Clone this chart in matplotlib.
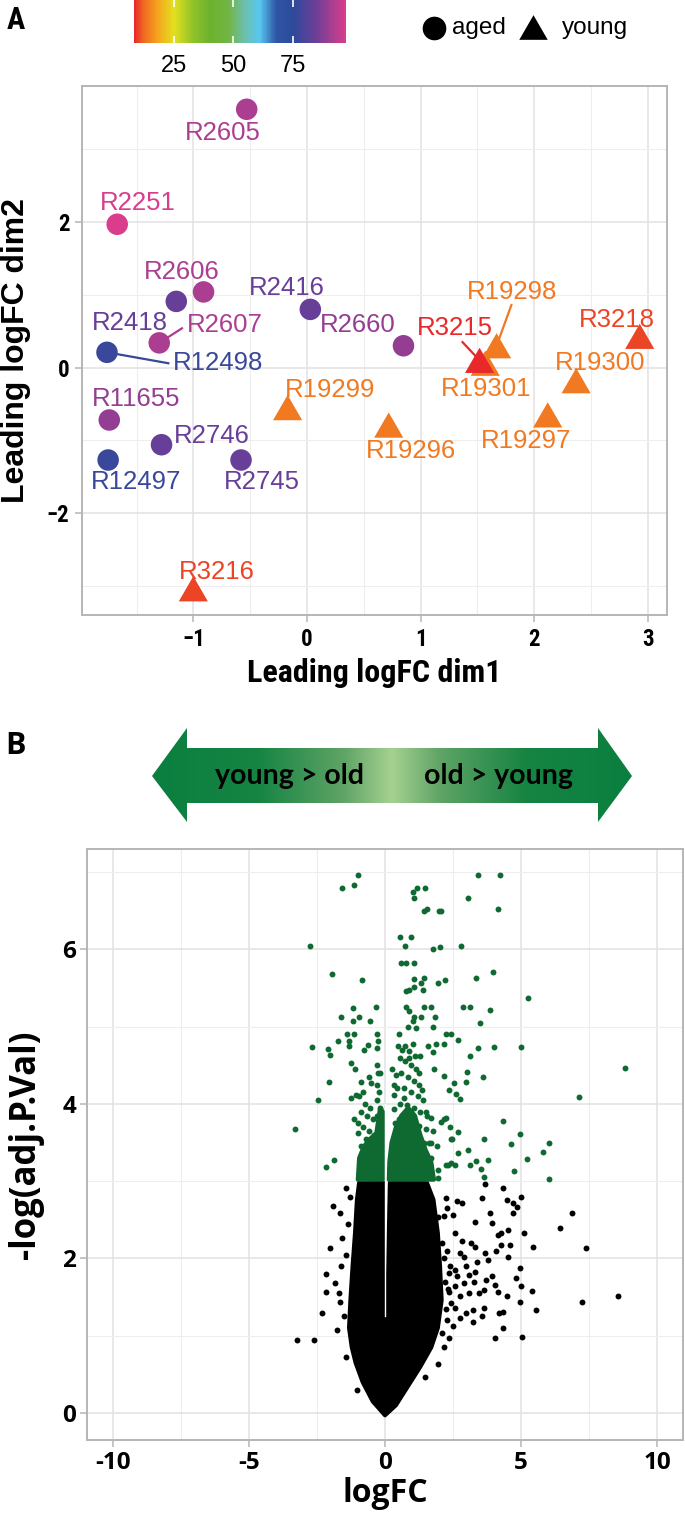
import numpy as np
import matplotlib
matplotlib.use("Agg")
import matplotlib.pyplot as plt
from matplotlib import font_manager
from matplotlib.colors import LinearSegmentedColormap, Normalize
from matplotlib.cm import ScalarMappable
from matplotlib.patches import Polygon
from matplotlib.path import Path


def pick_font(*names):
    have = {f.name for f in font_manager.fontManager.ttflist}
    for n in names:
        if n in have:
            return n
    return "DejaVu Sans"


NARROW = pick_font("Liberation Sans Narrow", "Roboto Condensed", "Liberation Sans")
ARIAL = pick_font("Liberation Sans", "Arial", "DejaVu Sans")
OPEN = pick_font("Open Sans", "Noto Sans", "DejaVu Sans")
LATO = pick_font("Lato", "Open Sans", "DejaVu Sans")

# ---- panel A data (MDS plot) ----
samples = ["R2605", "R2251", "R2606", "R2418", "R2607", "R12498", "R2416", "R2660",
           "R11655", "R2746", "R12497", "R2745",
           "R19301", "R19298", "R19300", "R19299", "R19296", "R19297",
           "R3215", "R3218", "R3216"]
group = ["aged"] * 12 + ["young"] * 9
age = [92, 97, 92, 84, 92, 77, 84, 89, 89, 84, 77, 84,
       14, 14, 14, 14, 14, 14, 8.2, 10, 10]
dim1 = [-0.53, -1.67, -0.91, -1.15, -1.30, -1.76, 0.03, 0.85, -1.74, -1.28, -1.75, -0.58,
        1.57, 1.67, 2.37, -0.17, 0.72, 2.12, 1.52, 2.93, -1.00]
dim2 = [3.55, 1.97, 1.04, 0.91, 0.34, 0.21, 0.80, 0.30, -0.72, -1.06, -1.27, -1.27,
        0.06, 0.30, -0.18, -0.55, -0.79, -0.65, 0.10, 0.43, -3.04]
# repelled label positions
lab_x = [-0.74, -1.49, -1.10, -1.56, -0.72, -0.78, -0.18, 0.45, -1.50, -0.84, -1.50, -0.40,
         1.58, 1.81, 2.58, 0.20, 0.92, 1.93, 1.30, 2.73, -0.79]
lab_y = [3.23, 2.26, 1.31, 0.61, 0.58, 0.07, 1.09, 0.58, -0.43, -0.94, -1.57, -1.57,
         -0.30, 1.04, 0.06, -0.31, -1.15, -1.01, 0.54, 0.65, -2.81]
# leader segments (label end)
seg_names = ["R2607", "R12498", "R3215", "R19298"]
seg_end_x = [-1.10, -1.22, 1.37, 1.80]
seg_end_y = [0.54, 0.06, 0.35, 0.86]

age_ticks = [25, 50, 75]
age_min, age_max = 8.2, 97.3

# ---- panel B data (volcano) ----
green_x = [-1.00, -1.59, -1.15, 3.43, 4.24, 1.18, 1.48, 1.04, 1.05, 3.06, 1.45, 1.54, 1.97, 2.06,
           4.15, 0.55, 0.97, 0.75, 1.75, 2.03, 2.79, -2.75, 0.59, 0.77, 1.08, -1.96, -0.85, 1.08,
           1.42, 1.32, 1.05, 1.40, 0.77, 0.87, 1.96, 2.21, 3.33, 3.98, 5.25,
           -1.19, -0.33, -1.61, -1.19, -0.97, -0.56, 0.77, 1.42, 1.69, 2.86, 3.13, 3.84, 3.50,
           1.85, 0.89, 1.08, 1.32, 1.02, 0.83, 1.14, 1.75, -2.68, -2.11, -2.01, -1.72, -1.41,
           -1.13, -1.34, -1.34, -0.64, -0.76, -0.31, -0.27, -0.29, -1.25, -2.07, -2.48, -3.30,
           0.53, 0.47, 0.74, 1.04, 1.57, 2.24, 2.43, 2.70, 2.18, 1.87, 1.75, 1.30, 0.89, 3.14,
           3.43, 4.00, 5.00, 1.81, 2.16, 2.55, 3.01, 2.98, 3.61, 2.37, 2.77, 2.61, 0.34, 0.34,
           0.34, 0.37, 1.69, 2.18, 2.40, 2.67, 2.43, 3.65, 4.33, 4.96, 4.63, 5.22, 5.80, 6.04,
           6.04, 4.75, 3.77, 3.36, 3.11, 3.06, 2.70, 3.63, 3.53, 1.93, 2.24, 2.43, 2.30, 2.57,
           2.24, 2.06, 2.45, 7.12, 8.82, -1.25, -1.07, -0.88, -0.51, -1.87, -2.16, -0.88,
           -1.13, -1.00, 1.60, 1.70, 1.50, 1.95, -1.10, -0.20, 0.25, 1.25,
           # inside the left cluster
           -0.31, -0.25, -0.30, -0.22, -0.28, -0.20, -0.30, -0.60, -0.80, -0.95, -0.75, -0.55,
           -0.90, -0.65, -0.45, -1.00, -0.80, -0.60, -0.40, -0.70, -0.88,
           # inside the right cluster
           0.55, 0.75, 0.95, 1.15, 0.60, 0.85, 1.05, 1.25, 0.45, 0.70, 0.95, 1.20, 1.40, 0.55,
           0.80, 1.05, 1.30, 1.55, 0.50, 0.75, 1.00, 1.25, 1.50, 1.75, 0.45, 0.70, 0.95, 1.20,
           1.45, 1.70, 1.90, 0.62, 0.90, 1.12, 0.40, 0.68, 1.35]
green_y = [6.96, 6.80, 6.83, 6.96, 6.96, 6.80, 6.80, 6.74, 6.67, 6.67, 6.50, 6.52, 6.50, 6.50,
           6.52, 6.16, 6.16, 6.05, 6.01, 6.03, 6.05, 6.05, 5.83, 5.83, 5.82, 5.68, 5.61, 5.62,
           5.63, 5.56, 5.51, 5.48, 5.46, 5.47, 5.56, 5.61, 5.63, 5.71, 5.37,
           5.24, 5.26, 5.13, 5.08, 5.13, 5.08, 5.26, 5.25, 5.25, 5.26, 5.26, 5.21, 5.05,
           5.13, 5.20, 5.13, 5.13, 5.07, 5.00, 4.98, 5.00, 4.74, 4.71, 4.63, 4.82, 4.90,
           4.91, 4.82, 4.75, 4.76, 4.70, 4.91, 4.81, 4.72, 4.53, 4.28, 4.05, 3.67,
           4.91, 4.75, 4.75, 4.77, 4.75, 4.91, 4.90, 4.83, 4.77, 4.77, 4.67, 4.62, 4.59, 4.62,
           4.72, 4.74, 4.74, 4.45, 4.36, 4.27, 4.41, 4.29, 4.35, 4.18, 4.06, 4.13, 4.25, 4.11,
           3.93, 3.75, 3.82, 3.80, 3.70, 3.64, 3.54, 3.54, 3.78, 3.61, 3.48, 3.29, 3.38, 3.49,
           3.03, 3.13, 3.28, 3.26, 3.21, 3.40, 3.36, 3.05, 3.16, 3.04, 3.21, 3.23, 3.21, 3.21,
           3.82, 3.76, 3.54, 4.09, 4.46, 4.08, 4.12, 4.29, 4.27, 3.28, 3.19, 3.04,
           3.80, 3.62, 3.50, 3.30, 3.90, 3.15, 4.45, 4.40, 4.45, 4.40,
           4.50, 4.40, 4.25, 4.15, 4.05, 3.95, 3.85, 4.35, 4.15, 4.10, 4.00, 3.95,
           3.90, 3.85, 3.80, 3.75, 3.70, 3.65, 3.60, 3.55, 3.45,
           4.60, 4.55, 4.50, 4.45, 4.40, 4.35, 4.30, 4.25, 4.20, 4.20, 4.15, 4.10, 4.05, 4.00,
           3.98, 3.95, 3.90, 3.85, 3.80, 3.78, 3.75, 3.72, 3.68, 3.65, 3.60, 3.60, 3.58, 3.55,
           3.50, 3.50, 3.45, 4.70, 4.68, 4.62, 4.38, 4.08, 4.18]
black_x = [-3.23, -2.60, -2.31, -2.15, -2.15, -1.91, -1.67, -2.02, -1.75, -1.62, -1.83, -1.67,
           -1.59, -1.43, -1.43, -1.03, -1.70,
           2.66, 2.83, 2.26, 3.55, 3.66, 4.35, 4.48, 4.99, 4.70, 4.86, 4.70, 3.84, 3.31, 3.95,
           6.86, 6.43, 7.39, 5.44, 5.12, 4.51, 4.27, 4.16, 4.51, 4.27, 4.59, 4.08, 3.68, 3.31,
           3.15, 2.83, 2.74, 2.26, 2.10, 2.58, 2.50, 1.94, 2.23, 4.96, 4.80, 4.99, 5.39, 4.96,
           5.55, 4.35, 4.19, 4.35, 5.04, 4.03, 7.24, 8.55, 4.48, 4.16, 3.63, 3.47, 3.71, 3.95,
           4.03, 3.27, 2.91, 2.58, 2.34, 2.74, 3.07, 3.31, 2.99, 2.58, 2.34, 2.66, 3.63, 3.23,
           2.99, 2.74, 3.23, 3.55, 2.58, 2.42, 2.50, 2.34, 2.18, 1.94, 1.46, 2.10, 2.26, 2.91,
           3.39, 3.79, 3.07, 2.20, 2.40, 2.15, 2.30, -1.35, -1.45, -1.30, -1.50, 2.15, 2.25]
black_y = [0.94, 0.94, 1.30, 1.80, 1.57, 2.68, 2.59, 2.13, 1.08, 1.90, 1.68, 1.44,
           2.26, 2.91, 0.73, 0.30, 1.55,
           2.74, 2.72, 2.65, 2.78, 2.97, 2.91, 2.76, 2.80, 2.72, 2.67, 2.59, 2.59, 2.47, 2.46,
           2.59, 2.40, 2.14, 2.15, 2.33, 2.37, 2.33, 2.31, 2.02, 2.18, 2.18, 2.09, 2.07, 2.15,
           2.20, 2.22, 2.07, 2.09, 2.20, 2.33, 2.56, 2.54, 2.78, 1.88, 1.75, 1.64, 1.58, 1.44,
           1.33, 1.31, 1.29, 1.10, 0.98, 0.97, 1.43, 1.52, 1.51, 1.57, 1.59, 1.55, 1.72, 1.77,
           1.66, 1.70, 1.68, 1.64, 1.57, 1.51, 1.55, 1.83, 1.90, 1.85, 1.81, 1.77, 1.36, 1.33,
           1.29, 1.23, 1.18, 1.25, 1.36, 1.42, 1.12, 0.97, 0.86, 0.64, 0.46, 1.03, 1.20, 2.02,
           1.96, 1.98, 1.79, 1.70, 1.90, 2.00, 1.60, 2.45, 2.05, 2.80, 1.25, 2.55, 1.35]
# outline of the saturated (overplotted) black cloud
core_x = [0.00, 0.40, 0.85, 1.30, 1.70, 1.94, 2.08, 2.02, 1.94, 1.78, 1.54, 0.18, 0.08, -0.05,
          -0.06, -0.95, -1.03, -1.10, -1.19, -1.27, -1.32, -1.22, -1.08, -0.82, -0.45]
core_y = [-0.03, 0.10, 0.35, 0.60, 0.85, 1.10, 1.46, 1.90, 2.33, 2.76, 2.98, 2.98, 1.20, 1.20,
          2.98, 2.98, 2.76, 2.33, 1.90, 1.46, 1.10, 0.85, 0.65, 0.40, 0.15]
# outlines of the saturated green clusters
gl_x = [-1.00, -0.08, -0.08, -0.18, -0.32, -0.55, -0.78, -0.95]
gl_y = [3.02, 3.02, 3.90, 3.95, 3.62, 3.55, 3.45, 3.30]
gr_x = [0.14, 1.80, 1.70, 1.50, 1.30, 1.10, 0.85, 0.60, 0.40, 0.24, 0.16]
gr_y = [3.02, 3.02, 3.25, 3.40, 3.60, 3.85, 3.95, 3.85, 3.70, 3.50, 3.25]

# ---- styling ----
W, H = 685, 1515
GRID_MAJ = "#e2e2e2"
GRID_MIN = "#eeeeee"
FRAME = "#b5b5b5"
GREEN = "#0f6a32"

age_cmap = LinearSegmentedColormap.from_list("age", [
    (0.0, "#e8282a"), ((12 - age_min) / (age_max - age_min), "#ef6722"),
    ((18 - age_min) / (age_max - age_min), "#f5a41e"),
    ((25 - age_min) / (age_max - age_min), "#e3e01f"),
    ((33 - age_min) / (age_max - age_min), "#8fc22a"),
    ((40 - age_min) / (age_max - age_min), "#6db22e"),
    ((48 - age_min) / (age_max - age_min), "#72b545"),
    ((55 - age_min) / (age_max - age_min), "#6cc0b0"),
    ((61 - age_min) / (age_max - age_min), "#57c7ef"),
    ((68 - age_min) / (age_max - age_min), "#2f55a5"),
    ((75 - age_min) / (age_max - age_min), "#2c4a9a"),
    ((84 - age_min) / (age_max - age_min), "#673f98"),
    (1.0, "#d93d8c")])
norm = Normalize(age_min, age_max)

tri = Path([(-1, -0.866), (1, -0.866), (0, 0.866), (-1, -0.866)], closed=True)


def fr(x0, y0, x1, y1):
    """pixel box (top-left origin) -> figure fraction rect"""
    return [x0 / W, 1 - y1 / H, (x1 - x0) / W, (y1 - y0) / H]


def style_axes(ax, lblfont, lblsize, pad=4):
    ax.set_facecolor("white")
    ax.grid(True, which="major", color=GRID_MAJ, lw=1.1)
    ax.grid(True, which="minor", color=GRID_MIN, lw=0.8)
    ax.set_axisbelow(True)
    for s in ax.spines.values():
        s.set_color(FRAME)
        s.set_linewidth(1.4)
    ax.tick_params(which="major", color=FRAME, length=5, width=1.1, pad=pad,
                   labelsize=lblsize, labelcolor="black")
    ax.tick_params(which="minor", length=0)
    for t in ax.get_xticklabels() + ax.get_yticklabels():
        t.set_fontfamily(lblfont)
        t.set_fontweight("bold")


fig = plt.figure(figsize=(W / 100, H / 100), dpi=100)

# overlay in pixel coordinates for decorations
ov = fig.add_axes([0, 0, 1, 1], zorder=0)
ov.set_xlim(0, W)
ov.set_ylim(H, 0)
ov.axis("off")
ov.patch.set_visible(False)

# ================= Panel A =================
axA = fig.add_axes(fr(82, 86, 667, 615), zorder=1)
axA.set_xlim(-1.98, 3.17)
axA.set_ylim(-3.40, 3.87)
axA.set_xticks([-1, 0, 1, 2, 3])
axA.set_xticklabels(["\u22121", "0", "1", "2", "3"])
axA.set_xticks([-1.5, -0.5, 0.5, 1.5, 2.5], minor=True)
axA.set_yticks([-2, 0, 2])
axA.set_yticklabels(["\u22122", "0", "2"])
axA.set_yticks([-3, -1, 1, 3], minor=True)
style_axes(axA, NARROW, 16.5)

d1 = np.array(dim1)
d2 = np.array(dim2)
ag = np.array(age)
is_aged = np.array([g == "aged" for g in group])
colors = [age_cmap(norm(a)) for a in age]

for name, ex, ey in zip(seg_names, seg_end_x, seg_end_y):
    i = samples.index(name)
    axA.plot([dim1[i], ex], [dim2[i], ey], color=colors[i], lw=1.6, zorder=2)

axA.scatter(d1[is_aged], d2[is_aged], c=ag[is_aged], cmap=age_cmap, norm=norm,
            marker="o", s=240, linewidths=0, zorder=3)
axA.scatter(d1[~is_aged], d2[~is_aged], c=ag[~is_aged], cmap=age_cmap, norm=norm,
            marker=tri, s=440, linewidths=0, zorder=3)

for i, name in enumerate(samples):
    axA.text(lab_x[i], lab_y[i], name, color=colors[i], fontsize=18.5, family=ARIAL,
             ha="center", va="center", zorder=4)

axA.set_xlabel("Leading logFC dim1", fontsize=23, fontweight="bold", family=NARROW)
axA.xaxis.label.set_va("center")
axA.xaxis.set_label_coords(0.5, (615 - 673) / 529)
axA.set_ylabel("Leading logFC dim2", fontsize=23, fontweight="bold", family=ARIAL)
axA.yaxis.label.set_va("center")
axA.yaxis.label.set_ha("center")
axA.yaxis.set_label_coords((16 - 82) / 585, 0.5)

# colour bar for age
cax = fig.add_axes(fr(134, 0, 346, 43), zorder=1)
cb = fig.colorbar(ScalarMappable(norm=norm, cmap=age_cmap), cax=cax,
                  orientation="horizontal", ticks=age_ticks)
cb.outline.set_visible(False)
cax.tick_params(axis="x", direction="in", color="white", width=1.2, length=5,
                top=True, bottom=True, labelsize=17, pad=9)
for t in cax.get_xticklabels():
    t.set_fontfamily(ARIAL)

# shape legend
ov.scatter([434], [28], marker="o", s=290, color="black", linewidths=0)
ov.text(452, 28, "aged", fontsize=17.5, family=ARIAL, va="center", ha="left")
ov.scatter([533], [27], marker=tri, s=420, color="black", linewidths=0)
ov.text(562, 28, "young", fontsize=17.5, family=ARIAL, va="center", ha="left")

fig.text(16 / W, 1 - 20 / H, "A", fontsize=22, fontweight="bold", family=NARROW,
         ha="center", va="center")

# ================= Panel B =================
fig.text(16 / W, 1 - 746 / H, "B", fontsize=22, fontweight="bold", family=OPEN,
         ha="center", va="center")

arrow = [(152, 776), (187, 728), (187, 748), (598, 748), (598, 728), (632, 776),
         (598, 822), (598, 803), (187, 803), (187, 822)]
arr_cmap = LinearSegmentedColormap.from_list("arr", [
    (0.0, "#0a7f3f"), (0.22, "#168443"), (0.40, "#5fa466"), (0.5, "#a6d190"),
    (0.60, "#5fa466"), (0.78, "#168443"), (1.0, "#0a7f3f")])
poly = Polygon(arrow, closed=True, facecolor="none", edgecolor="none")
ov.add_patch(poly)
grad = np.linspace(0, 1, 512).reshape(1, -1)
im = ov.imshow(grad, cmap=arr_cmap, aspect="auto", extent=[152, 632, 822, 728],
               interpolation="bilinear")
im.set_clip_path(poly)
ov.set_xlim(0, W)
ov.set_ylim(H, 0)
ov.text(290, 776, "young > old", fontsize=20.5, fontweight="bold", family=LATO,
        ha="center", va="center", color="black")
ov.text(499, 776, "old > young", fontsize=20.5, fontweight="bold", family=LATO,
        ha="center", va="center", color="black")

axB = fig.add_axes(fr(87, 849, 683, 1440), zorder=1)
axB.set_xlim(-10.95, 10.95)
axB.set_ylim(-0.35, 7.30)
axB.set_xticks([-10, -5, 0, 5, 10])
axB.set_xticklabels(["-10", "-5", "0", "5", "10"])
axB.set_xticks([-7.5, -2.5, 2.5, 7.5], minor=True)
axB.set_yticks([0, 2, 4, 6])
axB.set_yticklabels(["0", "2", "4", "6"])
axB.set_yticks([1, 3, 5, 7], minor=True)
style_axes(axB, OPEN, 17.5, pad=3)

axB.fill(core_x, core_y, facecolor="black", edgecolor="black", lw=3,
         joinstyle="round", zorder=2)
axB.scatter(black_x, black_y, s=18, color="black", linewidths=0, zorder=2)
axB.fill(gl_x, gl_y, facecolor=GREEN, edgecolor=GREEN, lw=3, joinstyle="round", zorder=3)
axB.fill(gr_x, gr_y, facecolor=GREEN, edgecolor=GREEN, lw=3, joinstyle="round", zorder=3)
axB.scatter(green_x, green_y, s=18, color=GREEN, linewidths=0, zorder=3)
axB.axvline(0, ymin=(1.25 + 0.35) / 7.65, ymax=(4.0 + 0.35) / 7.65, color="white",
            lw=1.0, zorder=3.5)

axB.set_xlabel("logFC", fontsize=23, fontweight="bold", family=OPEN)
axB.xaxis.label.set_va("center")
axB.xaxis.set_label_coords(0.5, (1440 - 1494) / 591)
axB.set_ylabel("-log(adj.P.Val)", fontsize=25, fontweight="bold", family=OPEN)
axB.yaxis.label.set_va("center")
axB.yaxis.label.set_ha("center")
axB.yaxis.set_label_coords((26 - 87) / 596, (1440 - 1145) / 591)

fig.savefig("out.png", dpi=100)
